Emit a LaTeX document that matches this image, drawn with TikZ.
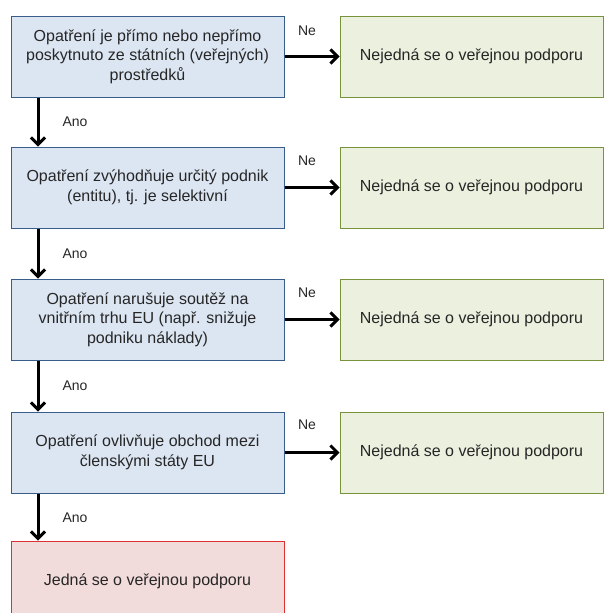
\documentclass[tikz,border=0pt]{standalone}
\usepackage{fontspec}
\setmainfont{Liberation Sans}
\usetikzlibrary{arrows.meta}
\definecolor{bfill}{HTML}{DCE6F2}
\definecolor{bdraw}{HTML}{385D8A}
\definecolor{gfill}{HTML}{EBF1DE}
\definecolor{gdraw}{HTML}{77933C}
\definecolor{rfill}{HTML}{F2DCDB}
\definecolor{rdraw}{HTML}{E0302F}
\definecolor{txt}{HTML}{262626}
\tikzset{
  qbox/.style={draw=bdraw, fill=bfill, line width=1pt, minimum width=273pt, minimum height=81pt, inner sep=0pt, align=center, font=\fontsize{16}{19.5}\selectfont, text=txt},
  nbox/.style={draw=gdraw, fill=gfill, line width=1pt, minimum width=263pt, minimum height=81pt, inner sep=0pt, align=center, font=\fontsize{16}{19.5}\selectfont, text=txt},
  ybox/.style={draw=rdraw, fill=rfill, line width=1pt, minimum width=273pt, minimum height=81pt, inner sep=0pt, align=center, font=\fontsize{16}{19.5}\selectfont, text=txt},
  arr/.style={line width=3pt, -{Straight Barb[length=7pt,width=14pt,line width=3pt]}},
  lbl/.style={font=\fontsize{14}{16}\selectfont, text=txt, inner sep=0pt}
}
\begin{document}
\begin{tikzpicture}[x=1pt,y=-1pt]
\useasboundingbox (0,0) rectangle (604,613);
\clip (0,0) rectangle (604,613);
\node[qbox] (q1) at (147.5,56.5) {Opatření je přímo nebo nepřímo\\poskytnuto ze státních (veřejných)\\prostředků};
\node[qbox] (q2) at (147.5,187.5) {Opatření zvýhodňuje určitý podnik\\(entitu), tj. je selektivní};
\node[qbox] (q3) at (147.5,319.5) {Opatření narušuje soutěž na\\vnitřním trhu EU (např. snižuje\\podniku náklady)};
\node[qbox] (q4) at (147.5,452.5) {Opatření ovlivňuje obchod mezi\\členskými státy EU};
\node[ybox] (yes) at (147.5,581.5) {Jedná se o veřejnou podporu};
\node[nbox] (n1) at (471.5,56.5) {Nejedná se o veřejnou podporu};
\node[nbox] (n2) at (471.5,187.5) {Nejedná se o veřejnou podporu};
\node[nbox] (n3) at (471.5,319.5) {Nejedná se o veřejnou podporu};
\node[nbox] (n4) at (471.5,452.5) {Nejedná se o veřejnou podporu};
\foreach \a/\b in {q1/n1,q2/n2,q3/n3,q4/n4}{
  \draw[arr] (\a.east) -- (\b.west);
}
\coordinate (d1s) at (38,97); \coordinate (d1e) at (38,147);
\coordinate (d2s) at (38,228); \coordinate (d2e) at (38,279);
\coordinate (d3s) at (38,360); \coordinate (d3e) at (38,412);
\coordinate (d4s) at (38,493); \coordinate (d4e) at (38,541);
\draw[arr] (q1.south -| d1s) -- (q2.north -| d1e);
\draw[arr] (q2.south -| d2s) -- (q3.north -| d2e);
\draw[arr] (q3.south -| d3s) -- (q4.north -| d3e);
\draw[arr] (q4.south -| d4s) -- (yes.north -| d4e);
\node[lbl] (ne1) at (307,31) {Ne};
\node[lbl] (ne2) at (307,161) {Ne};
\node[lbl] (ne3) at (307,293) {Ne};
\node[lbl] (ne4) at (307,425) {Ne};
\node[lbl] (a1) at (75,122) {Ano};
\node[lbl] (a2) at (75,254) {Ano};
\node[lbl] (a3) at (75,386) {Ano};
\node[lbl] (a4) at (75,518) {Ano};
\end{tikzpicture}
\end{document}
